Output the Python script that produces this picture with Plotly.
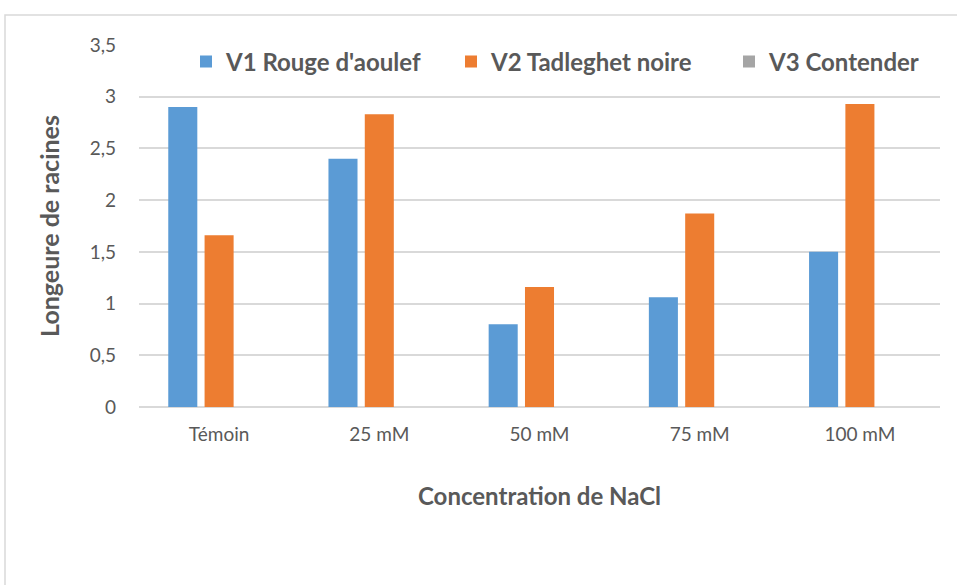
import plotly.graph_objects as go

categories = ["Témoin", "25 mM", "50 mM", "75 mM", "100 mM"]
v1_values = [2.90, 2.40, 0.80, 1.06, 1.50]
v2_values = [1.66, 2.83, 1.16, 1.87, 2.93]
v3_values = [0, 0, 0, 0, 0]
series_names = ["V1 Rouge d'aoulef", "V2 Tadleghet noire", "V3 Contender"]
colors = ["#5b9bd5", "#ed7d31", "#a5a5a5"]
y_ticks = [0, 0.5, 1, 1.5, 2, 2.5, 3, 3.5]

FONT = "Lato, 'Open Sans', sans-serif"
TXT = "#595959"
L = 139

legend_ids = ["legend", "legend2", "legend3"]
legend_px = [186, 451, 729]

fig = go.Figure()
for name, vals, col, lid in zip(series_names, [v1_values, v2_values, v3_values], colors, legend_ids):
    fig.add_trace(go.Bar(x=categories, y=vals, name=name, legend=lid, showlegend=True,
                         marker=dict(color=col, line=dict(width=0))))

def legend_cfg(px):
    return dict(orientation="h", x=(px - L) / 801, y=0.953, xanchor="left", yanchor="middle",
                font=dict(size=24, color=TXT, family=FONT, weight="bold"),
                bgcolor="rgba(0,0,0,0)", itemwidth=30, visible=True)

fig.update_layout(
    width=957, height=585,
    showlegend=True,
    margin=dict(l=L, r=17, t=45, b=178),
    paper_bgcolor="white", plot_bgcolor="white",
    separators=", ",
    barmode="group", bargap=0.32, bargroupgap=0.2,
    font=dict(family=FONT, color=TXT, size=19),
    legend=legend_cfg(legend_px[0]),
    legend2=legend_cfg(legend_px[1]),
    legend3=legend_cfg(legend_px[2]),
    xaxis=dict(showgrid=False, showline=False, ticks="", tickfont=dict(size=19, color=TXT),
               ticklabelstandoff=14,
               title=dict(text="Concentration de NaCl", standoff=44,
                          font=dict(size=24, color=TXT, family=FONT, weight="bold"))),
    yaxis=dict(range=[0, 3.5], tickvals=y_ticks, showgrid=True, gridcolor="#d9d9d9", gridwidth=1.5,
               zeroline=True, zerolinecolor="#d9d9d9", zerolinewidth=1.5,
               showline=False, ticks="", tickfont=dict(size=19, color=TXT), ticklabelstandoff=22,
               title=dict(text="Longeure de racines", standoff=22,
                          font=dict(size=25, color=TXT, family=FONT, weight="bold"))),
    shapes=[dict(type="rect", xref="paper", yref="paper",
                 x0=(5 - L) / 801, x1=1.05, y0=-0.6, y1=1.083,
                 line=dict(color="#d9d9d9", width=1.5), fillcolor="rgba(0,0,0,0)", layer="below")],
)

fig.write_html("out.html", config={"displayModeBar": False},
               post_script="document.body.style.margin='0';document.body.style.padding='0';")
